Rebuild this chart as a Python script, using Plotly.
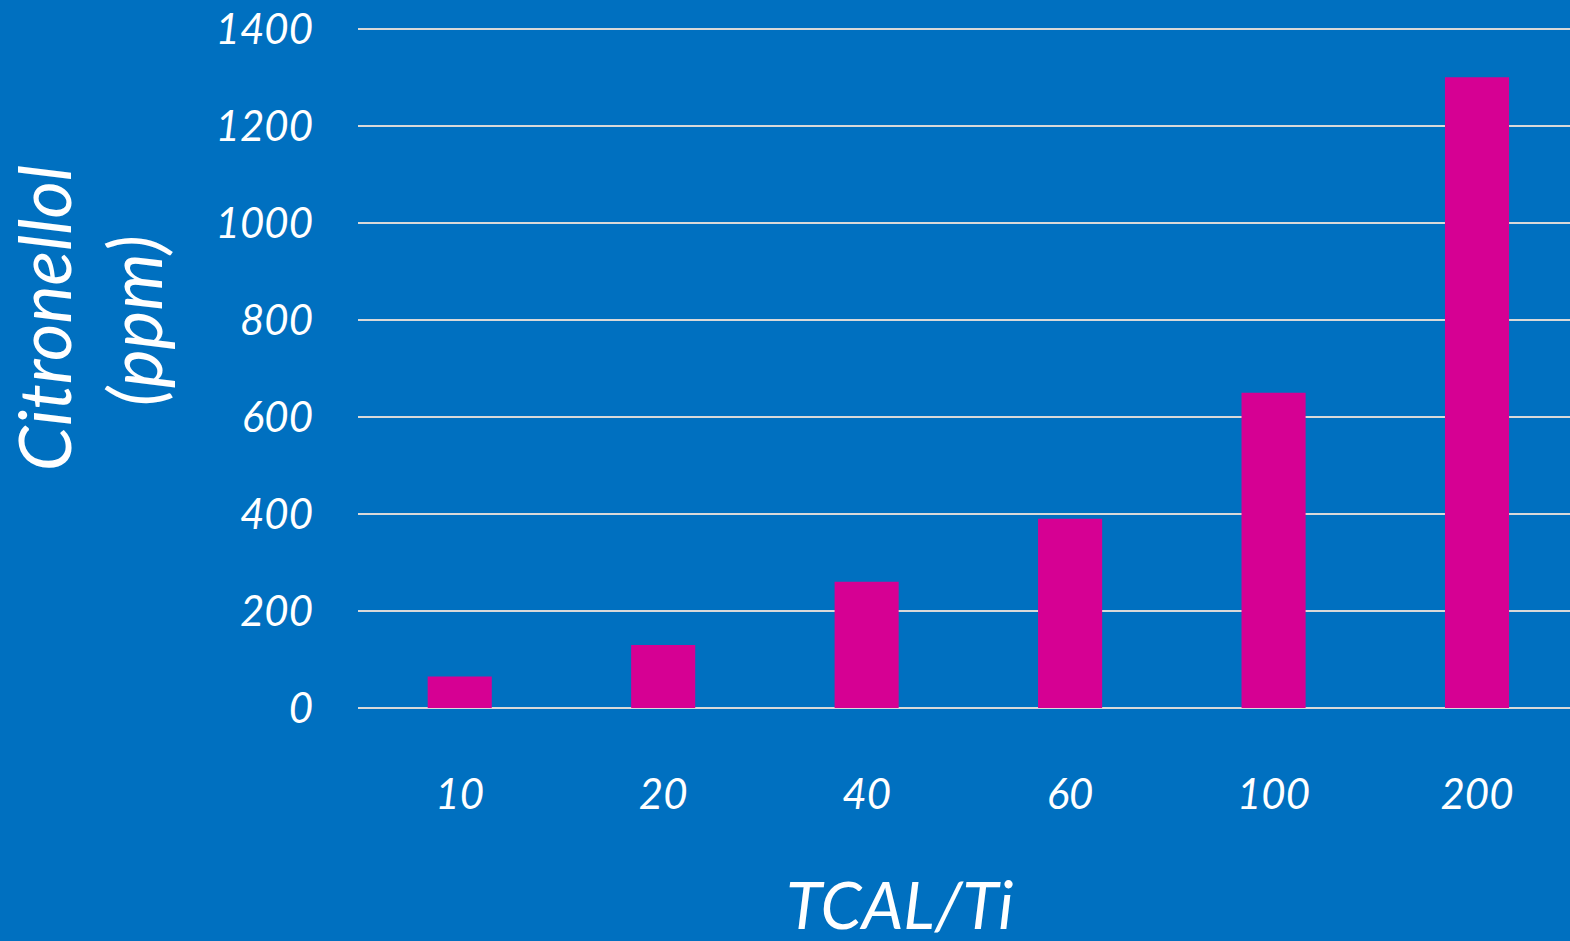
import plotly.graph_objects as go

categories = ["10", "20", "40", "60", "100", "200"]
citronellol_ppm = [65, 130, 260, 390, 650, 1300]
y_ticks = [0, 200, 400, 600, 800, 1000, 1200, 1400]

BG = "#0070C0"
BAR = "#D60093"
GRID = "#D9D9D9"
FONT = "Lato"

TOP, BOTTOM, LEFT = 23.5, 233, 358

fig = go.Figure(
    go.Bar(
        x=categories,
        y=citronellol_ppm,
        marker=dict(color=BAR, line=dict(width=0)),
        width=0.315,
    )
)

fig.update_layout(
    width=1570,
    height=941,
    paper_bgcolor=BG,
    plot_bgcolor=BG,
    margin=dict(l=LEFT, r=0, t=TOP, b=BOTTOM, autoexpand=False),
    showlegend=False,
    font=dict(family=FONT, color="white", style="italic"),
)

fig.update_xaxes(
    type="category",
    range=[-0.5, 5.457],
    showgrid=False,
    zeroline=False,
    showline=False,
    ticks="",
    tickfont=dict(size=42, family=FONT, color="white", style="italic"),
    ticklabelstandoff=58,
)

# headroom above 1400 so the top gridline is drawn
fig.update_yaxes(
    range=[0, 1410],
    tickvals=y_ticks,
    ticktext=[str(v) for v in y_ticks],
    showgrid=True,
    gridcolor=GRID,
    gridwidth=1.8,
    zeroline=True,
    zerolinecolor=GRID,
    zerolinewidth=1.8,
    showline=False,
    ticks="",
    tickfont=dict(size=42, family=FONT, color="white", style="italic"),
    ticklabelstandoff=44,
)

# Axis titles placed as free text (two-line rotated y title)
fig.add_annotation(
    text="Citronellol", x=43, y=941 - 318, xref="paper", yref="paper",
    showarrow=False, textangle=-90,
    font=dict(size=72, family=FONT, color="white", style="italic"),
)
fig.add_annotation(
    text="(ppm)", x=134, y=941 - 321, xref="paper", yref="paper",
    showarrow=False, textangle=-90,
    font=dict(size=73, family=FONT, color="white", style="italic"),
)
fig.add_annotation(
    text="TCAL/Ti", x=900, y=941 - 904, xref="paper", yref="paper",
    showarrow=False,
    font=dict(size=66, family=FONT, color="white", style="italic"),
)

# Convert pixel positions of the titles into paper fractions
plot_w = 1570 - LEFT
plot_h = 941 - TOP - BOTTOM
for ann in fig.layout.annotations:
    ann.x = (ann.x - LEFT) / plot_w
    ann.y = (ann.y - BOTTOM) / plot_h
    ann.xanchor = "center"
    ann.yanchor = "middle"

fig.write_html("out.html")
